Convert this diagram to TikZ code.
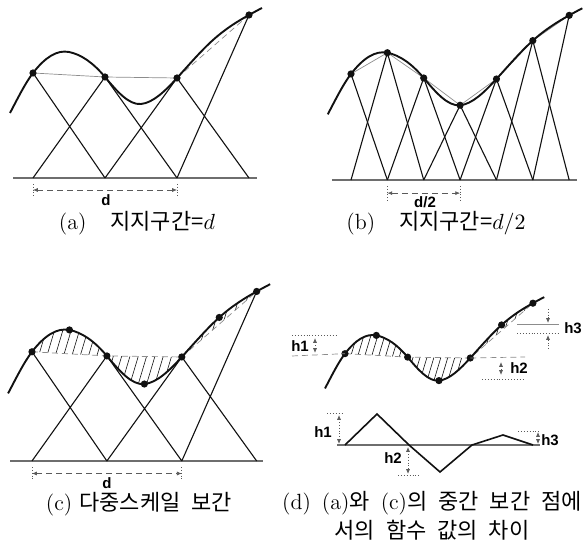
\documentclass[tikz,border=0pt]{standalone}
\usepackage{fontspec}
\setsansfont{Liberation Sans}
\newfontfamily\kr{Noto Sans CJK KR}
\usepackage{tikz}
\usetikzlibrary{arrows.meta}
\definecolor{ink}{HTML}{111111}
\definecolor{chordgray}{HTML}{8C8C8C}
\definecolor{groundgray}{HTML}{6E6E6E}
\definecolor{guidegray}{HTML}{5A5A5A}
\tikzset{
  fcurve/.style={draw=ink,line width=0.95pt},
  hat/.style={draw=ink,line width=0.55pt},
  chord/.style={draw=chordgray,line width=0.35pt},
  groundline/.style={draw=groundgray,line width=1pt},
  dot/.style={circle,fill=ink,inner sep=0pt,minimum size=3.6pt},
  dimline/.style={draw=guidegray,densely dashed,line width=0.35pt,
    {Latex[length=2.4pt,width=2pt]}-{Latex[length=2.4pt,width=2pt]}},
  tickline/.style={draw=guidegray,densely dotted,line width=0.4pt},
  guide/.style={draw=guidegray,densely dotted,line width=0.45pt},
  harr/.style={draw=guidegray,densely dotted,line width=0.4pt,-{Latex[length=2.4pt,width=2pt]}},
  hharr/.style={harr,{Latex[length=2.4pt,width=2pt]}-{Latex[length=2.4pt,width=2pt]}},
  hatch/.style={draw=ink,line width=0.3pt},
  wave/.style={draw=ink,line width=0.8pt},
  lab/.style={font=\sffamily\bfseries\fontsize{7.5}{8}\selectfont,inner sep=1pt},
  caption/.style={font=\fontsize{11}{14.5}\selectfont,align=center,inner sep=0pt},
}
\newcommand{\wsp}{\hspace{5.5pt}}
% knots of the sampled function: index/x/y (d = 72)
\newcommand{\knots}{1/0/105,2/36/126,3/72/101,4/108/74,5/144/100,6/180/138,7/216/163}
\newcommand{\fcurve}{(-23,65) .. controls (-15.3,79.6) and (-7.7,95) .. (0,105)
  .. controls (12,120.6) and (24,128.4) .. (36,126)
  .. controls (48,123.6) and (60,115.4) .. (72,101)
  .. controls (84,86.6) and (96,72.8) .. (108,74)
  .. controls (120,75.2) and (132,86.8) .. (144,100)
  .. controls (156,113.2) and (168,127.2) .. (180,138)
  .. controls (192,148.8) and (204,156.4) .. (216,163)
  .. controls (220.3,165.4) and (224.7,167.8) .. (229,170)}
\newcommand{\areaone}{(0,105) .. controls (12,120.6) and (24,128.4) .. (36,126)
  .. controls (48,123.6) and (60,115.4) .. (72,101) -- cycle}
\newcommand{\areatwo}{(72,101) .. controls (84,86.6) and (96,72.8) .. (108,74)
  .. controls (120,75.2) and (132,86.8) .. (144,100) -- cycle}
\newcommand{\areathree}{(144,100) .. controls (156,113.2) and (168,127.2) .. (180,138)
  .. controls (192,148.8) and (204,156.4) .. (216,163) -- cycle}
\newcommand{\hatcharea}[1]{\begin{scope}\clip #1;
  \foreach \h in {-60,-52,...,230}{\draw[hatch] (\h,40) -- ++(42,140);}
  \end{scope}}

\begin{document}
\begin{tikzpicture}[x=0.5pt,y=-0.5pt]
\useasboundingbox (0,0) rectangle (584,555);

% (a) support d
\begin{scope}[shift={(33,178)},yscale=-1]
  \foreach \i/\x/\y in \knots {\coordinate (a\i) at (\x,\y); \coordinate (ab\i) at (\x,0);}
  \coordinate (aL) at (-20,0); \coordinate (aR) at (224,0);
  \draw[groundline] (aL) -- (aR);
  \draw[hat] (a1) -- (ab3) (ab1) -- (a3) -- (ab5) (ab3) -- (a5) -- (ab7) (ab5) -- (a7);
  \draw[chord] (a1) -- (a3) -- (a5);
  \draw[chord,densely dashed] (a5) -- (a7);
  \draw[fcurve] \fcurve;
  \foreach \i in {1,3,5,7} \node[dot] (da\i) at (a\i) {};
  \coordinate (ad1) at (0,-12); \coordinate (ad2) at (144,-12);
  \draw[tickline] (ad1) ++(0,6) -- ++(0,-13) (ad2) ++(0,6) -- ++(0,-13);
  \draw[dimline] (ad1) -- (ad2);
\end{scope}
\node[lab] (alab) at (106,200) {d};
\node[caption] (capa) at (137,223) {(a)\hspace{12pt}{\kr 지지구간=}$d$};

% (b) support d/2
\begin{scope}[shift={(351,180)},xscale=1.01,yscale=-1.01]
  \foreach \i/\x/\y in \knots {\coordinate (b\i) at (\x,\y); \coordinate (bb\i) at (\x,0);}
  \coordinate (bL) at (-19,0); \coordinate (bR) at (224,0);
  \draw[groundline] (bL) -- (bR);
  \draw[hat] (b1) -- (bb2) (bb6) -- (b7);
  \foreach \p/\i/\n in {1/2/3,2/3/4,3/4/5,4/5/6,5/6/7}{\draw[hat] (bb\p) -- (b\i) -- (bb\n);}
  \draw[chord] (b1) -- (b2) -- (b3) -- (b4) -- (b5) -- (b6) -- (b7);
  \draw[fcurve] \fcurve;
  \foreach \i in {1,...,7} \node[dot] (db\i) at (b\i) {};
  \coordinate (bd1) at (36,-13); \coordinate (bd2) at (108,-13);
  \draw[tickline] (bd1) ++(0,7) -- ++(0,-14) (bd2) ++(0,7) -- ++(0,-14);
  \draw[dimline] (bd1) -- (bd2);
\end{scope}
\node[lab] (blab) at (425,202) {d/2};
\node[caption] (capb) at (436,223) {(b)\hspace{12pt}{\kr 지지구간=}$d/2$};

% (c) multiscale interpolation
\begin{scope}[shift={(32,461)},xscale=1.04,yscale=-1.04]
  \foreach \i/\x/\y in \knots {\coordinate (c\i) at (\x,\y); \coordinate (cb\i) at (\x,0);}
  \coordinate (cL) at (-21,0); \coordinate (cR) at (222,0);
  \draw[groundline] (cL) -- (cR);
  \draw[hat] (c1) -- (cb3) (cb1) -- (c3) -- (cb5) (cb3) -- (c5) -- (cb7) (cb5) -- (c7);
  \hatcharea{\areaone} \hatcharea{\areatwo} \hatcharea{\areathree}
  \draw[chord,densely dashed] (c1) -- (c3) -- (c5) -- (c7);
  \draw[fcurve] \fcurve;
  \foreach \i in {1,...,7} \node[dot] (dc\i) at (c\i) {};
  \coordinate (cd1) at (0,-12); \coordinate (cd2) at (144,-12);
  \draw[tickline] (cd1) ++(0,6) -- ++(0,-13) (cd2) ++(0,6) -- ++(0,-13);
  \draw[dimline] (cd1) -- (cd2);
\end{scope}
\node[lab] (clab) at (107,483) {d};
\node[caption] (capc) at (139,504) {(c) {\kr 다중스케일}\wsp{\kr 보간}};

% (d) differences at the middle points
\begin{scope}[shift={(345,445)},xscale=0.87,yscale=-0.87]
  \foreach \i/\x/\y in \knots {\coordinate (e\i) at (\x,\y);}
  \hatcharea{\areaone} \hatcharea{\areatwo} \hatcharea{\areathree}
  \draw[chord,densely dashed] (e1) -- (e3) -- (e5) -- (e7);
  \draw[fcurve] \fcurve;
  \foreach \i in {1,...,7} \node[dot] (de\i) at (e\i) {};
\end{scope}
% h1, h2, h3 on the curve
\coordinate (t1a) at (292,335); \coordinate (t1b) at (337,335);
\coordinate (t1c) at (292,356);
\draw[guide] (t1a) -- (t1b);
\draw[chord,densely dashed] (t1c) -- (e1);
\coordinate (t1u) at (315,338); \coordinate (t1d) at (315,353);
\draw[hharr] (t1u) -- (t1d);
\node[lab] (th1) at (300,346) {h1};
\coordinate (t2a) at (525,357); \coordinate (t2b) at (482,379); \coordinate (t2c) at (525,379);
\draw[chord,densely dashed] (e5) -- (t2a);
\draw[guide] (t2b) -- (t2c);
\coordinate (t2u) at (501,362); \coordinate (t2d) at (501,375);
\draw[hharr] (t2u) -- (t2d);
\node[lab] (th2) at (519,368) {h2};
\coordinate (t3a) at (517,325); \coordinate (t3b) at (559,325);
\coordinate (t3c) at (517,333); \coordinate (t3d) at (560,333);
\draw[chord,line width=0.5pt] (t3a) -- (t3b);
\draw[guide] (t3c) -- (t3d);
\coordinate (t3s) at (548,309); \coordinate (t3t) at (548,323);
\coordinate (t3v) at (548,349); \coordinate (t3w) at (548,335);
\draw[harr] (t3s) -- (t3t);
\draw[harr] (t3v) -- (t3w);
\node[lab] (th3) at (573,328) {h3};

% difference graph
\foreach \i/\x/\y in {0/345/445,1/377/414,2/409/445,3/440/472,4/472/445,5/503/435,6/533/445}
  {\coordinate (w\i) at (\x,\y);}
\coordinate (wL) at (337,445); \coordinate (wR) at (540,445);
\draw[groundline,line width=0.8pt] (wL) -- (wR);
\draw[wave] (w0) -- (w1) -- (w2) -- (w3) -- (w4) -- (w5) -- (w6);
\coordinate (g1a) at (327,413); \coordinate (g1b) at (344,413);
\coordinate (g1u) at (339,415); \coordinate (g1d) at (339,444);
\draw[guide] (g1a) -- (g1b);
\draw[hharr] (g1u) -- (g1d);
\node[lab] (gh1) at (323,432) {h1};
\coordinate (g2a) at (398,475); \coordinate (g2b) at (420,475);
\coordinate (g2u) at (408,447); \coordinate (g2d) at (408,474);
\draw[guide] (g2a) -- (g2b);
\draw[hharr] (g2u) -- (g2d);
\node[lab] (gh2) at (393,458) {h2};
\coordinate (g3a) at (518,431); \coordinate (g3b) at (540,431);
\coordinate (g3u) at (538,432); \coordinate (g3d) at (538,444);
\draw[guide] (g3a) -- (g3b);
\draw[hharr] (g3u) -- (g3d);
\node[lab] (gh3) at (550,440) {h3};
\node[caption] (capd) at (432,516) {(d)\wsp(a){\kr 와}\wsp(c){\kr 의}\wsp{\kr 중간}\wsp{\kr 보간}\wsp{\kr 점에}\\
  {\kr 서의}\wsp{\kr 함수}\wsp{\kr 값의}\wsp{\kr 차이}};
\end{tikzpicture}
\end{document}
